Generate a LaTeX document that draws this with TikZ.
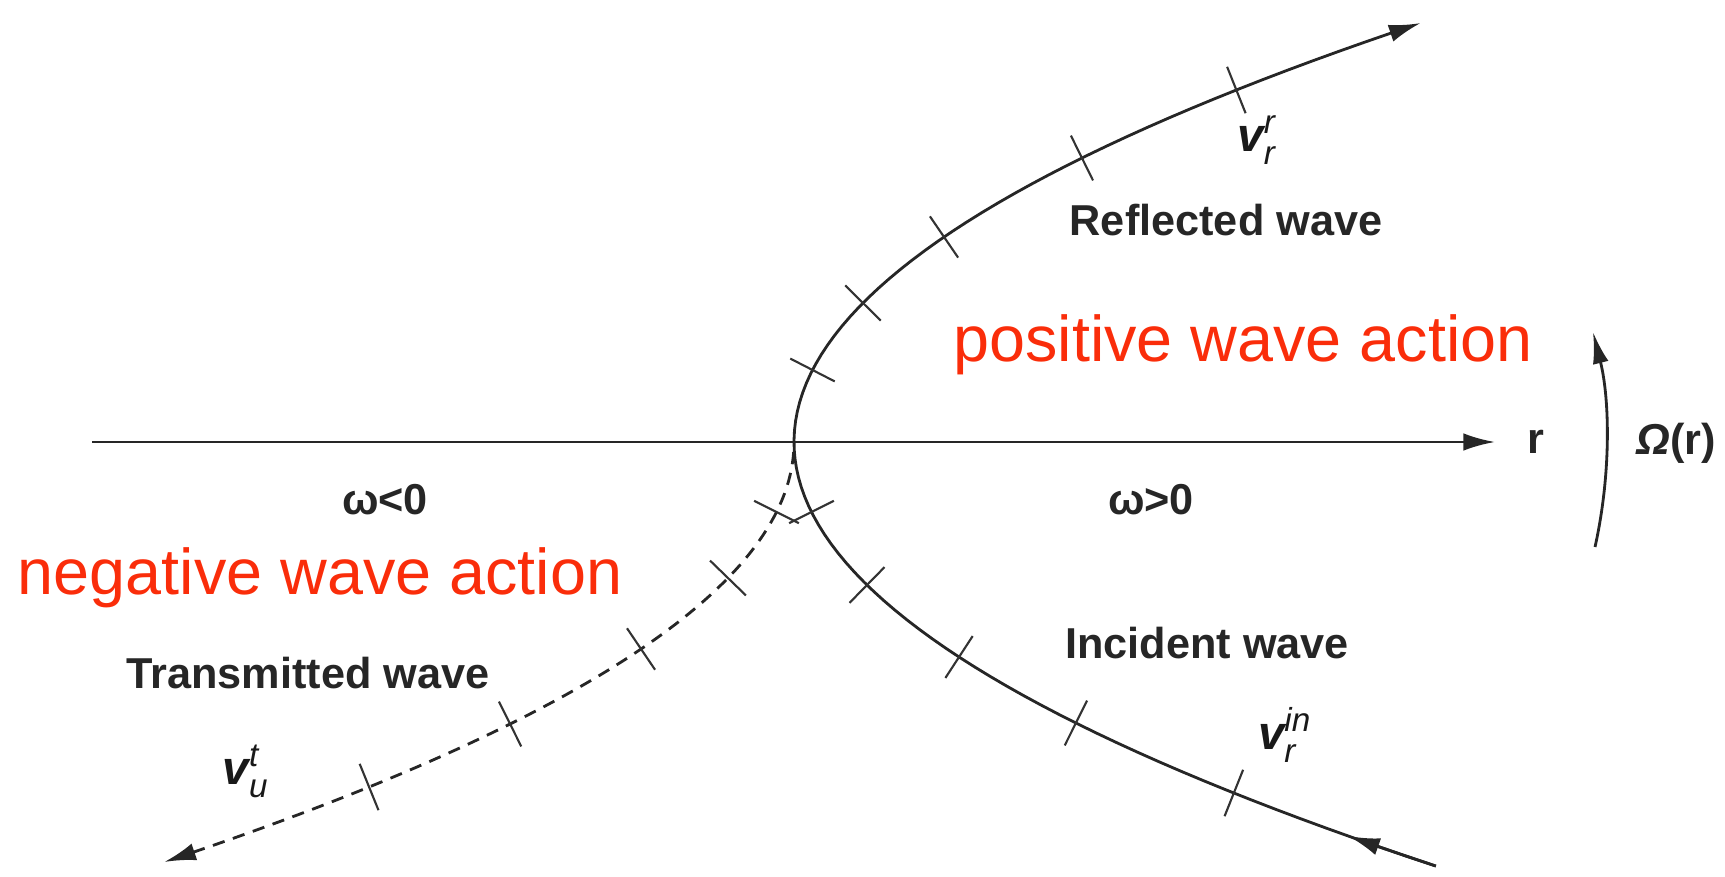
\documentclass[tikz,border=0pt]{standalone}
\usepackage{amsmath}
\usepackage{fontspec}
\setmainfont{Liberation Sans}
\usepackage{xcolor}
\usetikzlibrary{arrows.meta,positioning}
\definecolor{actionred}{RGB}{250,45,10}

\begin{document}
\begin{tikzpicture}[
  x=0.01cm, y=-0.01cm,
  wavelabel/.style={font=\fontsize{12.3}{14}\selectfont\bfseries, text=black!85, inner sep=0pt},
  velo/.style={font=\fontsize{13.5}{15}\selectfont, text=black!90, inner sep=0pt},
  actiontext/.style={font=\fontsize{18.4}{21}\selectfont, text=actionred, inner sep=0pt},
  branch/.style={line width=0.8pt, draw=black!85},
  dashbranch/.style={branch, dash pattern=on 3.5pt off 2.5pt},
  tickmark/.style={line width=0.6pt, draw=black!80},
  arrow/.style={-{Latex[length=9pt, width=5pt]}}
]
  \useasboundingbox (0,0) rectangle (1725,876);

  % axis and frequency arrow
  \coordinate (axstart) at (92,442);
  \coordinate (axend) at (1495,442);
  \node[wavelabel, right=0.32cm of axend] (r) {r};
  \draw[branch, arrow] (axstart) -- (axend);
  \coordinate (omlow) at (1595,547);
  \coordinate (omtop) at (1593,332);
  \node[wavelabel] (omega) at (1676,443) {{\itshape Ω}(r)};
  \draw[branch, -{Latex[length=9pt, width=4.5pt]}] (omlow) .. controls (1611,475) and (1610,400) .. (omtop);

  % incident / reflected branch
  \draw[branch, arrow] plot[domain=4.24:-4.19, samples=90] ({794+35.7*\x*\x},{442+100*\x});
  \draw[branch, arrow] plot[domain=4.24:3.94, samples=8] ({794+35.7*\x*\x},{442+100*\x});
  % transmitted branch
  \draw[dashbranch, arrow] plot[domain=0.1:4.2, samples=70] ({794-35.7*\x*\x},{442+100*\x});

  \foreach \s/\t in {1/-3.52, 1/-2.84, 1/-2.05, 1/-1.39, 1/-0.72,
                     1/0.70, 1/1.43, 1/2.15, 1/2.81, 1/3.51,
                     -1/0.70, -1/1.36, -1/2.07, -1/2.82, -1/3.45} {
    \pgfmathsetmacro\nx{25/sqrt(1+0.5098*\t*\t)}
    \pgfmathsetmacro\ny{-0.714*\s*\t*\nx}
    \draw[tickmark] ({794+\s*35.7*\t*\t-\nx},{442+100*\t-\ny}) -- ++({2*\nx},{2*\ny});
  }

  \node[wavelabel] (reflected) at (1226,220) {Reflected wave};
  \node[wavelabel] (incident) at (1207,643) {Incident wave};
  \node[wavelabel] (transmitted) at (308,673) {Transmitted wave};
  \node[velo] (vrefl) at (1257,140)
    {$\text{\bfseries\itshape v}_{\text{\itshape r}}^{\text{\itshape r}}$};
  \node[velo] (vinc) at (1285,735)
    {$\text{\bfseries\itshape v}_{\text{\itshape r}}^{\text{\itshape in}}$};
  \node[velo] (vtrans) at (246,771)
    {$\text{\bfseries\itshape v}_{\text{\itshape u}}^{\text{\itshape t}}$};
  \node[wavelabel] (wneg) at (385,500) {ω<0};
  \node[wavelabel] (wpos) at (1151,500) {ω>0};

  \node[actiontext] (posact) at (1243,345) {positive wave action};
  \node[actiontext] (negact) at (320,578) {negative wave action};
\end{tikzpicture}
\end{document}
